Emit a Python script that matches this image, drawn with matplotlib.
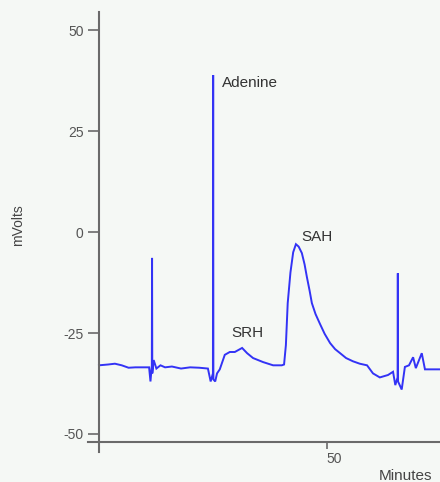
import matplotlib
matplotlib.use("Agg")
import matplotlib.pyplot as plt

# chromatogram trace (minutes, mV)
minutes = [0.0, 2.0, 3.5, 5.0, 6.5, 8.0, 9.5, 11.0, 11.3, 11.6, 11.65, 11.7, 12.0,
           12.6, 13.5, 14.5, 16.0, 18.0, 20.0, 22.0, 23.9, 24.5, 25.0, 25.05, 25.1,
           25.5, 25.9, 26.5, 27.6, 28.7, 29.8, 31.4, 32.5, 33.8, 36.0, 38.2, 40.1,
           40.6, 41.0, 41.4, 42.0, 42.6, 43.2, 43.8, 44.5, 45.1, 45.6, 46.2, 46.7,
           47.5, 48.5, 49.5, 50.7, 51.8, 52.9, 54.2, 55.7, 57.2, 58.8, 60.1, 61.6,
           63.4, 64.5, 65.0, 65.5, 65.55, 65.6, 66.4, 67.1, 68.0, 68.9, 69.5, 70.8,
           71.5, 74.8]
mvolts = [-33.0, -32.8, -32.6, -33.0, -33.6, -33.5, -33.5, -33.5, -37.0, -33.0, -6.4, -35.0, -31.7,
          -33.8, -33.0, -33.5, -33.3, -33.8, -33.5, -33.6, -33.8, -37.0, -35.0, 38.9, -36.5,
          -37.0, -35.0, -34.0, -30.4, -29.7, -29.7, -28.7, -30.0, -31.2, -32.2, -33.0, -33.0,
          -32.8, -28.0, -17.6, -10.0, -5.0, -3.0, -3.6, -5.2, -8.0, -11.1, -14.5, -17.6,
          -20.3, -22.8, -25.2, -27.5, -29.0, -30.0, -31.2, -32.0, -32.6, -33.0, -35.0, -36.0,
          -35.4, -34.6, -37.9, -36.0, -10.2, -37.0, -39.0, -33.4, -33.0, -31.0, -33.7, -30.0,
          -34.0, -34.0]

peak_names = ["Adenine", "SRH", "SAH"]
peak_label_x = [27.0, 29.0, 44.5]
peak_label_y = [36.9, -25.0, -1.2]

y_ticks = [-50, -25, 0, 25, 50]
x_ticks = [50]

bg = "#f5f8f5"
grey = "#6a6a6a"
plt.rcParams["font.family"] = ["Liberation Sans", "DejaVu Sans"]

fig = plt.figure(figsize=(4.4, 4.82), dpi=100, facecolor=bg)
ax = fig.add_axes([0.2, 0.062, 0.8, 0.913], facecolor=bg)

ax.plot(minutes, mvolts, color="#3333f5", lw=1.4, solid_joinstyle="miter")

for name, lx, ly in zip(peak_names, peak_label_x, peak_label_y):
    ax.text(lx, ly, name, fontsize=11, color="#333333", ha="left", va="center")

ax.set_xlim(-2.4, 74.8)
ax.set_ylim(-54.5, 54.5)
ax.spines["left"].set_position(("data", 0))
ax.spines["bottom"].set_position(("data", -52))
for side in ["top", "right"]:
    ax.spines[side].set_visible(False)
for side in ["left", "bottom"]:
    ax.spines[side].set_color(grey)
    ax.spines[side].set_linewidth(1.5)

ax.set_yticks(y_ticks)
ax.set_yticklabels([str(v) for v in y_ticks])
ax.set_xticks(x_ticks)
ax.set_xticklabels([str(v) for v in x_ticks], ha="left")
ax.tick_params(axis="y", direction="out", length=8, width=1.2, color=grey,
               labelcolor="#555555", labelsize=10, pad=3)
ax.tick_params(axis="x", direction="out", length=5, width=1.2, color=grey,
               labelcolor="#555555", labelsize=10, pad=2)

fig.text(18 / 440, 1 - 225 / 482, "mVolts", rotation=90, fontsize=10,
         color="#444444", ha="center", va="center")
fig.text(379 / 440, 1 - 476 / 482, "Minutes", fontsize=11,
         color="#444444", ha="left", va="center")

fig.savefig("out.png", dpi=100, facecolor=bg)
